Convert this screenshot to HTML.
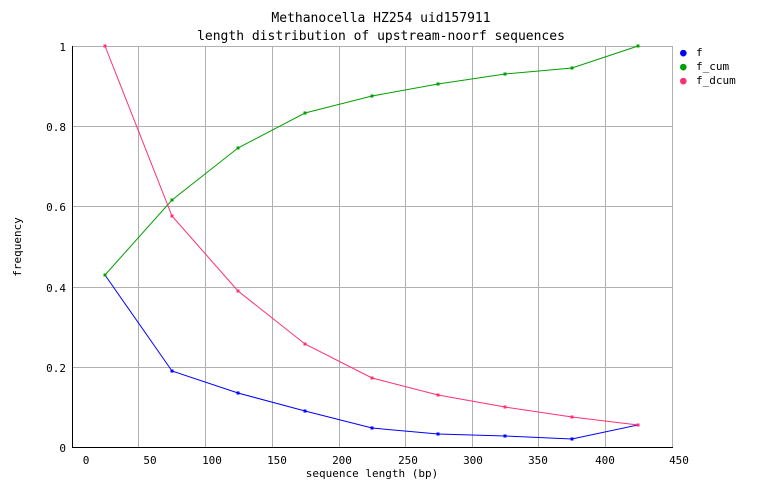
<!DOCTYPE html>
<html><head><style>
html,body{margin:0;padding:0;background:#fff;}
svg text{font-family:"DejaVu Sans Mono","Liberation Mono",monospace;font-size:11px;fill:#000;}
</style></head><body>
<svg width="762" height="498" xmlns="http://www.w3.org/2000/svg">
<rect width="762" height="498" fill="#fff"/>
<text x="381" y="22" text-anchor="middle" font-size="13" style="font-size:13px">Methanocella HZ254 uid157911</text>
<text x="381" y="40" text-anchor="middle" style="font-size:13px">length distribution of upstream-noorf sequences</text>
<g stroke="#b0b0b0" stroke-width="1">
<line x1="138.5" y1="46" x2="138.5" y2="447"/><line x1="205.5" y1="46" x2="205.5" y2="447"/>
<line x1="272.5" y1="46" x2="272.5" y2="447"/><line x1="339.5" y1="46" x2="339.5" y2="447"/>
<line x1="405.5" y1="46" x2="405.5" y2="447"/><line x1="472.5" y1="46" x2="472.5" y2="447"/>
<line x1="538.5" y1="46" x2="538.5" y2="447"/><line x1="605.5" y1="46" x2="605.5" y2="447"/>
<line x1="672.5" y1="46" x2="672.5" y2="447"/>
<line x1="72" y1="46.5" x2="672" y2="46.5"/><line x1="72" y1="126.5" x2="672" y2="126.5"/>
<line x1="72" y1="206.5" x2="672" y2="206.5"/><line x1="72" y1="287.5" x2="672" y2="287.5"/>
<line x1="72" y1="367.5" x2="672" y2="367.5"/>
</g>
<line x1="72.5" y1="46" x2="72.5" y2="448" stroke="#000"/>
<line x1="72" y1="447.5" x2="673" y2="447.5" stroke="#000"/>
<g text-anchor="end">
<text x="66" y="51">1</text><text x="66" y="131">0.8</text><text x="66" y="211">0.6</text>
<text x="66" y="292">0.4</text><text x="66" y="372">0.2</text><text x="66" y="452">0</text>
</g>
<g text-anchor="middle">
<text x="86" y="464">0</text><text x="150" y="464">50</text><text x="212" y="464">100</text>
<text x="277" y="464">150</text><text x="342" y="464">200</text><text x="408" y="464">250</text>
<text x="473" y="464">300</text><text x="538" y="464">350</text><text x="605" y="464">400</text>
<text x="679" y="464">450</text>
<text x="372" y="477">sequence length (bp)</text>
</g>
<text transform="translate(21,247) rotate(-90)" text-anchor="middle">frequency</text>
<polyline fill="none" stroke="#0000ff" points="105,275 172,371 238,393 305,411 372,428 438,434 505,436 572,439 638,425"/>
<polyline fill="none" stroke="#00a000" points="105,275 172,200 238,148 305,113 372,96 438,84 505,74 572,68 638,46"/>
<polyline fill="none" stroke="#ff3070" points="105,46 172,216 238,291 305,344 372,378 438,395 505,407 572,417 638,425"/>
<g fill="#0000ff"><rect x="103.5" y="273.5" width="3" height="3"/><rect x="170.5" y="369.5" width="3" height="3"/><rect x="236.5" y="391.5" width="3" height="3"/><rect x="303.5" y="409.5" width="3" height="3"/><rect x="370.5" y="426.5" width="3" height="3"/><rect x="436.5" y="432.5" width="3" height="3"/><rect x="503.5" y="434.5" width="3" height="3"/><rect x="570.5" y="437.5" width="3" height="3"/></g>
<g fill="#00a000"><rect x="170.5" y="198.5" width="3" height="3"/><rect x="236.5" y="146.5" width="3" height="3"/><rect x="303.5" y="111.5" width="3" height="3"/><rect x="370.5" y="94.5" width="3" height="3"/><rect x="436.5" y="82.5" width="3" height="3"/><rect x="503.5" y="72.5" width="3" height="3"/><rect x="570.5" y="66.5" width="3" height="3"/><rect x="636.5" y="44.5" width="3" height="3"/><rect x="103.5" y="273.5" width="3" height="3"/></g>
<g fill="#ff3070"><rect x="103.5" y="44.5" width="3" height="3"/><rect x="170.5" y="214.5" width="3" height="3"/><rect x="236.5" y="289.5" width="3" height="3"/><rect x="303.5" y="342.5" width="3" height="3"/><rect x="370.5" y="376.5" width="3" height="3"/><rect x="436.5" y="393.5" width="3" height="3"/><rect x="503.5" y="405.5" width="3" height="3"/><rect x="570.5" y="415.5" width="3" height="3"/><rect x="636.5" y="423.5" width="3" height="3"/></g>
<text x="680" y="56" fill="#0000ff" style="fill:#0000ff">●</text><text x="696" y="56">f</text>
<text x="680" y="70" style="fill:#00a000">●</text><text x="696" y="70">f_cum</text>
<text x="680" y="84" style="fill:#ff3070">●</text><text x="696" y="84">f_dcum</text>
</svg>
</body></html>
